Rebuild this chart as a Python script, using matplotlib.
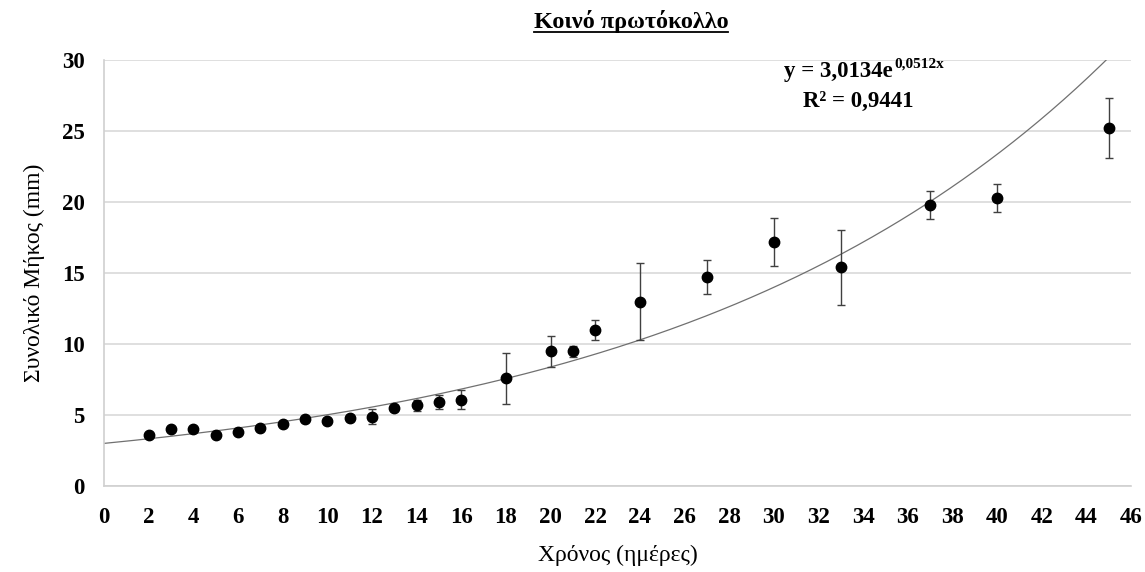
import numpy as np
import matplotlib
matplotlib.use('Agg')
import matplotlib.pyplot as plt
from matplotlib.lines import Line2D

plt.rcParams['font.family'] = ['Liberation Serif', 'DejaVu Serif']

# days and mean total length (mm) with std
days = [2, 3, 4, 5, 6, 7, 8, 9, 10, 11, 12, 13, 14, 15, 16, 18, 20, 21, 22, 24, 27, 30, 33, 37, 40, 45]
length = [3.6, 4.0, 4.0, 3.6, 3.8, 4.1, 4.4, 4.7, 4.6, 4.8, 4.9, 5.5, 5.7, 5.9, 6.1,
          7.6, 9.5, 9.5, 11.0, 13.0, 14.7, 17.2, 15.4, 19.8, 20.3, 25.2]
err = [0.1, 0.1, 0.1, 0.1, 0.1, 0.1, 0.1, 0.2, 0.2, 0.2, 0.5, 0.2, 0.4, 0.5, 0.7,
       1.8, 1.1, 0.4, 0.7, 2.7, 1.2, 1.7, 2.65, 1.0, 1.0, 2.1]

fit_a = 3.0134
fit_b = 0.0512
r2 = '0,9441'

fig = plt.figure(figsize=(11.45, 5.72), dpi=100)
ax = fig.add_axes([0.0908, 0.150, 0.897, 0.745])

xs = np.linspace(0, 45, 400)
ax.plot(xs, fit_a * np.exp(fit_b * xs), color='#707070', lw=0.9, zorder=2)

ax.errorbar(days, length, yerr=err, fmt='o', color='black', ms=7.5,
            ecolor='#404040', elinewidth=1.0, capsize=3, capthick=1.0, zorder=3)

ax.set_xlim(0, 46)
ax.set_ylim(0, 30)
ax.set_xticks(range(0, 47, 2))
ax.set_yticks(range(0, 31, 5))
ax.grid(axis='y', color='#d9d9d9', lw=1.2)
ax.set_axisbelow(True)
for s in ['top', 'right']:
    ax.spines[s].set_visible(False)
for s in ['left', 'bottom']:
    ax.spines[s].set_color('#d0d0d0')
    ax.spines[s].set_linewidth(1.2)
ax.tick_params(length=0, labelsize=16.5)
ax.tick_params(axis='x', pad=15)
ax.tick_params(axis='y', pad=14)
for lab in ax.get_xticklabels() + ax.get_yticklabels():
    lab.set_fontweight('bold')

ax.set_xlabel('Χρόνος (ημέρες)', fontsize=17, labelpad=12)
ax.set_ylabel('Συνολικό Μήκος (mm)', fontsize=17, labelpad=12)

# trendline label: base text + smaller raised exponent
eq = ax.text(32.9, 29.2, 'y = 3,0134e', fontsize=16.5, fontweight='bold', ha='center', va='center')
ax.text(33.8, 27.1, 'R² = ' + r2, fontsize=16.5, fontweight='bold', ha='center', va='center')

title = fig.text(0.551, 0.962, 'Κοινό πρωτόκολλο', fontsize=17.5, fontweight='bold',
                 ha='center', va='center')
fig.canvas.draw()
eb = eq.get_window_extent()
ax.annotate('0,0512x', xy=(eb.x1, eb.y1), xycoords='figure pixels', xytext=(1, -7),
            textcoords='offset points', fontsize=11, fontweight='bold', ha='left', va='bottom')
bb = title.get_window_extent().transformed(fig.transFigure.inverted())
fig.add_artist(Line2D([bb.x0, bb.x1], [bb.y0 + 0.002, bb.y0 + 0.002], color='black', lw=1.3,
                      transform=fig.transFigure))

fig.savefig('out.png', dpi=100)
